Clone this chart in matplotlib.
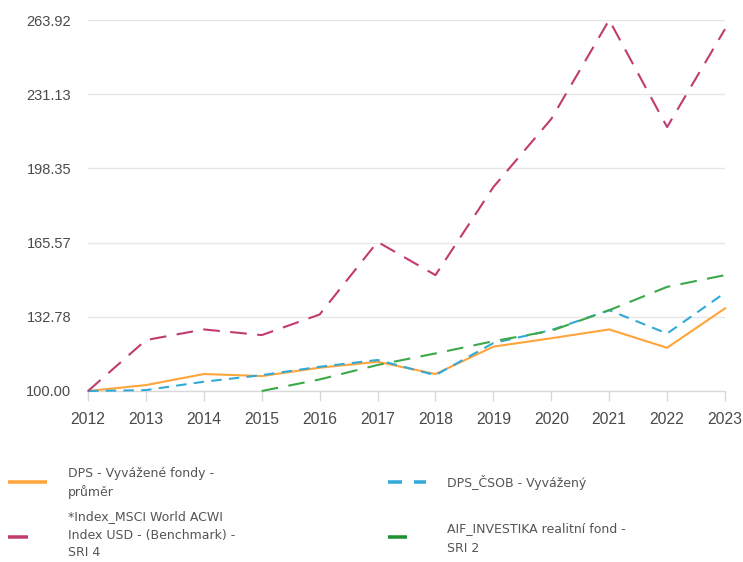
import matplotlib
matplotlib.use("Agg")
import matplotlib.pyplot as plt
from matplotlib.lines import Line2D
import numpy as np

years = [2012, 2013, 2014, 2015, 2016, 2017, 2018, 2019, 2020, 2021, 2022, 2023]
dps_prumer = [100, 102.6, 107.5, 106.6, 110.3, 112.9, 107.5, 119.6, 123.3, 127.2, 119.1, 136.5]
dps_csob = [100, 100.4, 104.1, 107.0, 110.7, 113.7, 107.0, 121.2, 126.9, 135.7, 125.4, 143.4]
msci = [100, 122.5, 127.2, 124.7, 133.8, 165.9, 151.2, 190.1, 220.2, 263.92, 216.6, 259.9]
investika = [np.nan, np.nan, np.nan, 100, 105.1, 111.5, 116.6, 122.0, 126.6, 135.7, 146.0, 151.2]
ytick_vals = [100.00, 132.78, 165.57, 198.35, 231.13, 263.92]
ytick_labels = ["100.00", "132.78", "165.57", "198.35", "231.13", "263.92"]

legend_labels = [
    ["DPS - Vyvážené fondy -", "průměr"],
    ["DPS_ČSOB - Vyvážený"],
    ["*Index_MSCI World ACWI", "Index USD - (Benchmark) -", "SRI 4"],
    ["AIF_INVESTIKA realitní fond -", "SRI 2"],
]

c_orange = "#FFA43A"
c_blue = "#33A9D8"
c_pink = "#C23B70"
c_green = "#3BA84A"
c_green_leg = "#1E9132"

W, H = 743, 562
fig = plt.figure(figsize=(W / 100, H / 100), dpi=100)
fig.patch.set_facecolor("white")

def fx(px):
    return px / W

def fy(py):
    return 1 - py / H

left, right, top, bottom = 88, 725, 20, 391
ax = fig.add_axes([fx(left), fy(bottom), fx(right) - fx(left), fy(top) - fy(bottom)])
ax.set_xlim(years[0], years[-1])
ax.set_ylim(ytick_vals[0], ytick_vals[-1])

lw = 1.5
ax.plot(years, dps_prumer, color=c_orange, lw=lw, clip_on=False, zorder=3, solid_joinstyle="round")
ax.plot(years, dps_csob, color=c_blue, lw=lw, dashes=(5, 3.5), clip_on=False, zorder=4)
ax.plot(years, msci, color=c_pink, lw=lw, dashes=(8, 5), clip_on=False, zorder=5)
ax.plot(years, investika, color=c_green, lw=lw, dashes=(8, 5), clip_on=False, zorder=6)

ax.set_yticks(ytick_vals)
ax.set_yticklabels(ytick_labels)
ax.set_xticks(years)
ax.set_xticklabels([str(y) for y in years])
ax.grid(axis="y", color="#e6e6e6", lw=1.0)
ax.set_axisbelow(True)
for s in ["top", "right", "left"]:
    ax.spines[s].set_visible(False)
ax.spines["bottom"].set_color("#d9d9d9")
ax.spines["bottom"].set_linewidth(1.0)
ax.tick_params(axis="y", length=0, pad=12, labelsize=10.5, labelcolor="#4a4a4a")
ax.tick_params(axis="x", length=7, width=1.0, color="#d9d9d9", pad=8, labelsize=11.3, labelcolor="#4a4a4a")
for lab in ax.get_xticklabels() + ax.get_yticklabels():
    lab.set_fontfamily("Liberation Sans")

# Legend (drawn manually)
leg_color = "#555555"
leg_font = dict(fontfamily="DejaVu Sans", fontsize=9.0, color=leg_color, va="center", ha="left")

def hline(x0, x1, y, color, lw_px=3.5):
    fig.add_artist(Line2D([fx(x0), fx(x1)], [fy(y), fy(y)], color=color, lw=lw_px * 0.72,
                          solid_capstyle="butt", transform=fig.transFigure))

hline(8, 47, 482, c_orange)
hline(388, 402, 482, c_blue)
hline(414, 426, 482, c_blue)
hline(8, 28, 537, c_pink)
hline(388, 407, 537, c_green_leg)

for i, line in enumerate(legend_labels[0]):
    fig.text(fx(68), fy(473 + 19 * i), line, **leg_font)
for i, line in enumerate(legend_labels[1]):
    fig.text(fx(447), fy(483 + 19 * i), line, **leg_font)
for i, line in enumerate(legend_labels[2]):
    fig.text(fx(68), fy(517 + 18 * i), line, **leg_font)
for i, line in enumerate(legend_labels[3]):
    fig.text(fx(447), fy(529 + 19 * i), line, **leg_font)

fig.savefig("out.png", dpi=100)
